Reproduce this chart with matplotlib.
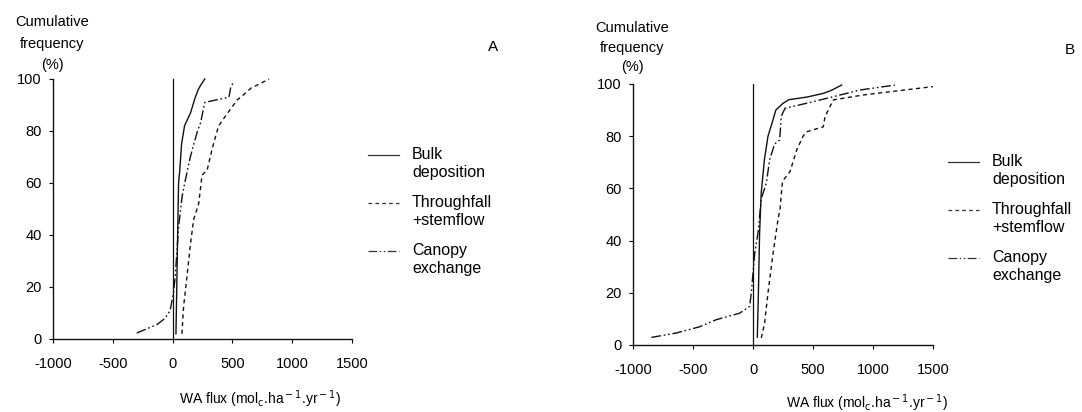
import matplotlib.pyplot as plt

plt.rcParams['font.family'] = ['Liberation Sans', 'DejaVu Sans']
plt.rcParams['font.size'] = 10
plt.rcParams['axes.unicode_minus'] = False

# panel A (x = WA flux, y = cumulative %)
bulkA_x = [28, 35, 42, 50, 60, 75, 100, 110, 150, 190, 215, 240, 269]
bulkA_y = [2, 20, 40, 60, 65, 75, 82, 83, 87, 93, 96, 98, 100]
thruA_x = [78, 92, 120, 148, 176, 218, 246, 289, 330, 372, 387, 415, 462, 540, 571, 655, 700, 807]
thruA_y = [2, 12.5, 24, 36, 46, 52, 63, 65, 73, 80, 82, 84, 87, 92, 93, 96.5, 97.5, 100]
canA_x = [-300, -132, -62, -20, 8, 22, 50, 80, 106, 148, 208, 233, 269, 471, 487, 513]
canA_y = [2.3, 5.5, 8, 11, 18, 24, 43, 55, 61, 70, 80, 83, 91, 93, 97, 99]

# panel B
bulkB_x = [36, 45, 55, 68, 95, 125, 165, 190, 250, 300, 450, 586, 650, 739]
bulkB_y = [3, 20, 43, 58, 71, 80, 86, 90, 92.6, 94, 95, 96.4, 97.5, 99.6]
thruB_x = [69, 97, 125, 167, 208, 225, 244, 253, 308, 364, 417, 447, 586, 600, 669, 919, 1500]
thruB_y = [2.7, 8.4, 20, 35, 48, 52, 62, 63.2, 66.4, 74.7, 80, 81.7, 83.6, 87.5, 93.9, 95.8, 99]
canB_x = [-847, -639, -444, -306, -111, -28, -14, 14, 42, 69, 111, 139, 180, 222, 236, 267, 500, 892, 1183]
canB_y = [2.9, 4.6, 7, 9.7, 12.2, 14.8, 20, 35, 43, 56, 62, 71, 77, 78.5, 87.7, 90.7, 93.2, 97.7, 99.6]

xticks = [-1000, -500, 0, 500, 1000, 1500]
yticks = [0, 20, 40, 60, 80, 100]
names = ['Bulk\ndeposition', 'Throughfall\n+stemflow', 'Canopy\nexchange']

W, H = 1082, 412
fig = plt.figure(figsize=(W / 100, H / 100), dpi=100)

dashed = (0, (3, 2.5))
dashdot = (0, (7, 2, 1.2, 2, 1.2, 2))
col = '#111111'


def panel(box, data, letter, letter_xy, head_x, head_y, leg_x, leg_y, lab_xy):
    l, r, b, t = box
    ax = fig.add_axes([l / W, 1 - b / H, (r - l) / W, (b - t) / H])
    (bx, by), (tx, ty), (cx, cy) = data
    ax.plot(bx, by, color=col, lw=1.0, clip_on=False)
    ax.plot(tx, ty, color=col, lw=1.0, ls=dashed, clip_on=False)
    ax.plot(cx, cy, color=col, lw=1.0, ls=dashdot, clip_on=False)
    ax.plot([0, 0], [0, 100], color=col, lw=0.9, clip_on=False)
    ax.set_xlim(-1000, 1500)
    ax.set_ylim(0, 100)
    ax.set_xticks(xticks)
    ax.set_yticks(yticks)
    for s in ['top', 'right']:
        ax.spines[s].set_visible(False)
    for s in ['left', 'bottom']:
        ax.spines[s].set_linewidth(1.0)
        ax.spines[s].set_color(col)
    ax.tick_params(axis='x', length=3, width=0.8, pad=10, labelsize=10.5)
    ax.tick_params(axis='y', length=3, width=0.8, pad=5, labelsize=10.5)
    fig.text(letter_xy[0] / W, 1 - letter_xy[1] / H, letter, fontsize=11,
             ha='center', va='center')
    for txt, yy in zip(['Cumulative', 'frequency', '(%)'], head_y):
        fig.text(head_x / W, 1 - yy / H, txt, fontsize=10.5, ha='center', va='center')
    styles = ['-', dashed, dashdot]
    for name, st, yy in zip(names, styles, leg_y):
        fig.add_artist(plt.Line2D([leg_x / W, (leg_x + 31) / W],
                                  [1 - yy / H, 1 - yy / H], color='#333333',
                                  lw=0.9, ls=st))
        fig.text((leg_x + 44) / W, 1 - (yy - 8) / H, name, fontsize=11.5,
                 ha='left', va='top', linespacing=1.25)
    fig.text(lab_xy[0] / W, 1 - lab_xy[1] / H,
             r'WA flux (mol$_{\rm c}$.ha$^{\rm -1}$.yr$^{\rm -1}$)',
             fontsize=10, ha='center', va='center')
    return ax


panel((53, 352, 339, 79),
      [(bulkA_x, bulkA_y), (thruA_x, thruA_y), (canA_x, canA_y)],
      'A', (493, 47), 52, [22, 44, 65], 368, [155, 203, 251], (260, 399))
panel((633, 933, 345, 84),
      [(bulkB_x, bulkB_y), (thruB_x, thruB_y), (canB_x, canB_y)],
      'B', (1070, 50), 632, [28, 48, 67], 948, [162, 210, 258], (867, 403))

fig.savefig('out.png', dpi=100)
